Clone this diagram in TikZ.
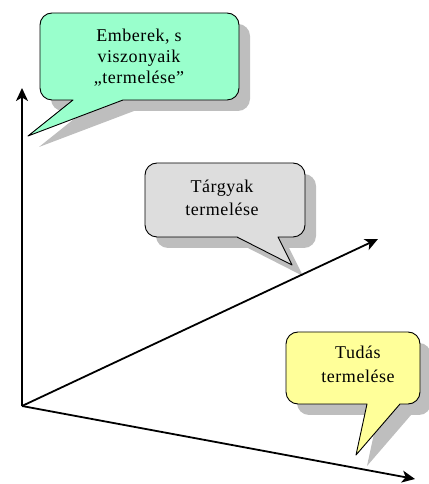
\documentclass[tikz,border=0pt]{standalone}
\usepackage{fontspec}
\setmainfont[LetterSpace=3]{Liberation Serif}
\usetikzlibrary{arrows.meta}
\definecolor{mint}{HTML}{99FFCC}
\definecolor{greyfill}{HTML}{DDDDDD}
\definecolor{paleyellow}{HTML}{FFFF99}
\definecolor{shadowc}{HTML}{BEBEBE}
% #1 L, #2 R, #3 T, #4 B, #5 tail base left x, #6 tail base right x, #7 tip x, #8 tip y (pixel, y down), #9 fill
\newcommand\bubble[9]{%
  \fill[shadowc, shift={(11,-11)}]
    ({#5},{484-(#4)}) -- ({#7},{484-(#8)}) -- ({#6},{484-(#4)}) -- ({#2-12},{484-(#4)})
    arc[start angle=270,end angle=360,radius=12pt] -- ({#2},{484-(#3)-12})
    arc[start angle=0,end angle=90,radius=12pt] -- ({#1+12},{484-(#3)})
    arc[start angle=90,end angle=180,radius=12pt] -- ({#1},{484-(#4)+12})
    arc[start angle=180,end angle=270,radius=12pt] -- cycle;
  \filldraw[fill=#9, bubbleline]
    ({#5},{484-(#4)}) -- ({#7},{484-(#8)}) -- ({#6},{484-(#4)}) -- ({#2-12},{484-(#4)})
    arc[start angle=270,end angle=360,radius=12pt] -- ({#2},{484-(#3)-12})
    arc[start angle=0,end angle=90,radius=12pt] -- ({#1+12},{484-(#3)})
    arc[start angle=90,end angle=180,radius=12pt] -- ({#1},{484-(#4)+12})
    arc[start angle=180,end angle=270,radius=12pt] -- cycle;
}
\begin{document}
\begin{tikzpicture}[x=1pt,y=1pt,
  bubbleline/.style={draw=black, line width=0.9pt, line join=round},
  axis/.style={line width=1.8pt, -{Stealth[length=13pt,width=12pt,inset=3.5pt]}},
  label/.style={align=center, inner sep=0pt}]
\useasboundingbox (0,0) rectangle (428,484);
% callouts
\bubble{40}{239}{13}{100}{73}{123}{28}{136}{mint}
\bubble{145}{305}{163}{237}{237}{278}{292}{265}{greyfill}
\bubble{286}{420}{332}{404}{367}{400}{356}{455}{paleyellow}
% texts
\node[label, font=\fontsize{18}{21}\selectfont] (t1) at (139,{484-57.5}) {Emberek, s\\viszonyaik\\„termelése”};
\node[label, font=\fontsize{18}{23}\selectfont] (t2) at (222,{484-197.5}) {Tárgyak\\termelése};
\node[label, font=\fontsize{18}{24}\selectfont] (t3) at (358,{484-364}) {Tudás\\termelése};
% axes
\coordinate (o) at (22,{484-406});
\coordinate (up) at (22,{484-88});
\coordinate (diag) at (378,{484-239});
\coordinate (low) at (415,{484-479});
\draw[axis] (o) -- (up);
\draw[axis] (o) -- (diag);
\draw[axis] (o) -- (low);
\end{tikzpicture}
\end{document}
